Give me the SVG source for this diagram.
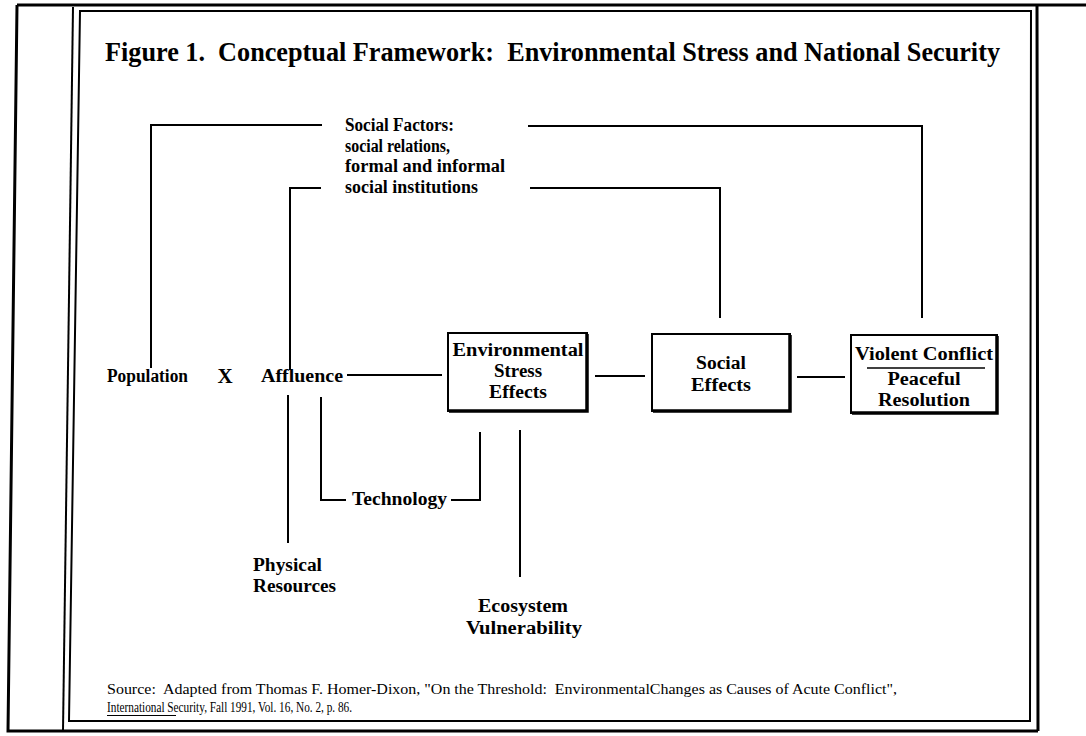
<svg xmlns="http://www.w3.org/2000/svg" width="1086" height="736" viewBox="0 0 1086 736">
<style>
.frame{fill:none;stroke:#000;stroke-width:3}
.thin{fill:none;stroke:#000;stroke-width:2}
.ln{fill:none;stroke:#000;stroke-width:2}
.box{fill:#fff;stroke:#000;stroke-width:2}
.sh{fill:none;stroke:#000;stroke-width:3.5}
.t{font-family:"Liberation Serif","Times New Roman",serif;font-weight:bold;font-size:18px;fill:#000}
.c{text-anchor:middle}
.title{font-family:"Liberation Serif","Times New Roman",serif;font-weight:bold;font-size:28px;fill:#000}
.src{font-family:"Liberation Serif","Times New Roman",serif;font-size:14px;fill:#000}
</style>
<rect width="1086" height="736" fill="#fff"/>
<g id="frame">
<path class="frame" d="M17,5 L1086,5 M17,5 L8,731 L1038,731 M1037,5 L1038,731"/>
<path class="thin" d="M73,7 L63,731"/>
<path class="thin" d="M80,11 L1031,11 L1030,721 L69,721 Z"/>
</g>
<g id="title">
<text class="title" x="105" y="61" xml:space="preserve" textLength="895" lengthAdjust="spacingAndGlyphs">Figure 1.  Conceptual Framework:  Environmental Stress and National Security</text>
</g>
<g id="connectors">
<path class="ln" d="M322,125 L151,125 L151,368"/>
<path class="ln" d="M321,188 L290,188 L290,370"/>
<path class="ln" d="M528,126 L922,126 L922,318"/>
<path class="ln" d="M530,188 L720,188 L720,318"/>
<path class="ln" d="M347,375 L442,375"/>
<path class="ln" d="M595,376 L645,376"/>
<path class="ln" d="M797,377 L845,377"/>
<path class="ln" d="M288,395 L288,543"/>
<path class="ln" d="M321,397 L321,500 L346,500"/>
<path class="ln" d="M451,500 L480,500 L480,432"/>
<path class="ln" d="M520,430 L520,577"/>
</g>
<g id="social-factors">
<text class="t" x="345" y="131" textLength="109" lengthAdjust="spacingAndGlyphs">Social Factors:</text>
<text class="t" x="345" y="152" textLength="105" lengthAdjust="spacingAndGlyphs">social relations,</text>
<text class="t" x="345" y="172" textLength="160" lengthAdjust="spacingAndGlyphs">formal and informal</text>
<text class="t" x="345" y="193" textLength="133" lengthAdjust="spacingAndGlyphs">social institutions</text>
</g>
<g id="population">
<text class="t" x="107" y="382" textLength="81" lengthAdjust="spacingAndGlyphs">Population</text>
</g>
<g id="times">
<text class="t" x="225" y="383" style="font-size:21px" text-anchor="middle">X</text>
</g>
<g id="affluence">
<text class="t" x="261" y="382" textLength="82" lengthAdjust="spacingAndGlyphs">Affluence</text>
</g>
<g id="env-stress">
<rect class="box" x="448" y="333" width="139" height="78"/>
<path class="sh" d="M587,334 L587,411 L449,411"/>
<text class="t c" x="518" y="356" textLength="131" lengthAdjust="spacingAndGlyphs">Environmental</text>
<text class="t c" x="518" y="377" textLength="48" lengthAdjust="spacingAndGlyphs">Stress</text>
<text class="t c" x="518" y="398" textLength="58" lengthAdjust="spacingAndGlyphs">Effects</text>
</g>
<g id="social-effects">
<rect class="box" x="652" y="334" width="138" height="77"/>
<path class="sh" d="M790,335 L790,411 L653,411"/>
<text class="t c" x="721" y="369" textLength="50" lengthAdjust="spacingAndGlyphs">Social</text>
<text class="t c" x="721" y="391" textLength="60" lengthAdjust="spacingAndGlyphs">Effects</text>
</g>
<g id="conflict">
<rect class="box" x="851" y="335" width="146" height="78"/>
<path class="sh" d="M997,336 L997,413 L852,413"/>
<text class="t c" x="924" y="360" textLength="138" lengthAdjust="spacingAndGlyphs">Violent Conflict</text>
<path class="ln" d="M867,368 L985,368" style="stroke-width:1.5"/>
<text class="t c" x="924" y="385" textLength="73" lengthAdjust="spacingAndGlyphs">Peaceful</text>
<text class="t c" x="924" y="406" textLength="92" lengthAdjust="spacingAndGlyphs">Resolution</text>
</g>
<g id="technology">
<text class="t" x="352" y="505" textLength="95" lengthAdjust="spacingAndGlyphs">Technology</text>
</g>
<g id="physical-resources">
<text class="t" x="253" y="571" textLength="69" lengthAdjust="spacingAndGlyphs">Physical</text>
<text class="t" x="253" y="592" textLength="83" lengthAdjust="spacingAndGlyphs">Resources</text>
</g>
<g id="ecosystem">
<text class="t c" x="523" y="612" textLength="90" lengthAdjust="spacingAndGlyphs">Ecosystem</text>
<text class="t c" x="524" y="634" textLength="116" lengthAdjust="spacingAndGlyphs">Vulnerability</text>
</g>
<g id="source">
<text class="src" x="107" y="694" xml:space="preserve" textLength="790" lengthAdjust="spacingAndGlyphs">Source:  Adapted from Thomas F. Homer-Dixon, "On the Threshold:  EnvironmentalChanges as Causes of Acute Conflict",</text>
<text class="src" x="107" y="712" textLength="245" lengthAdjust="spacingAndGlyphs">International Security, Fall 1991, Vol. 16, No. 2, p. 86.</text>
<path d="M107,715.5 L176,715.5" stroke="#000" stroke-width="1"/>
</g>
</svg>
